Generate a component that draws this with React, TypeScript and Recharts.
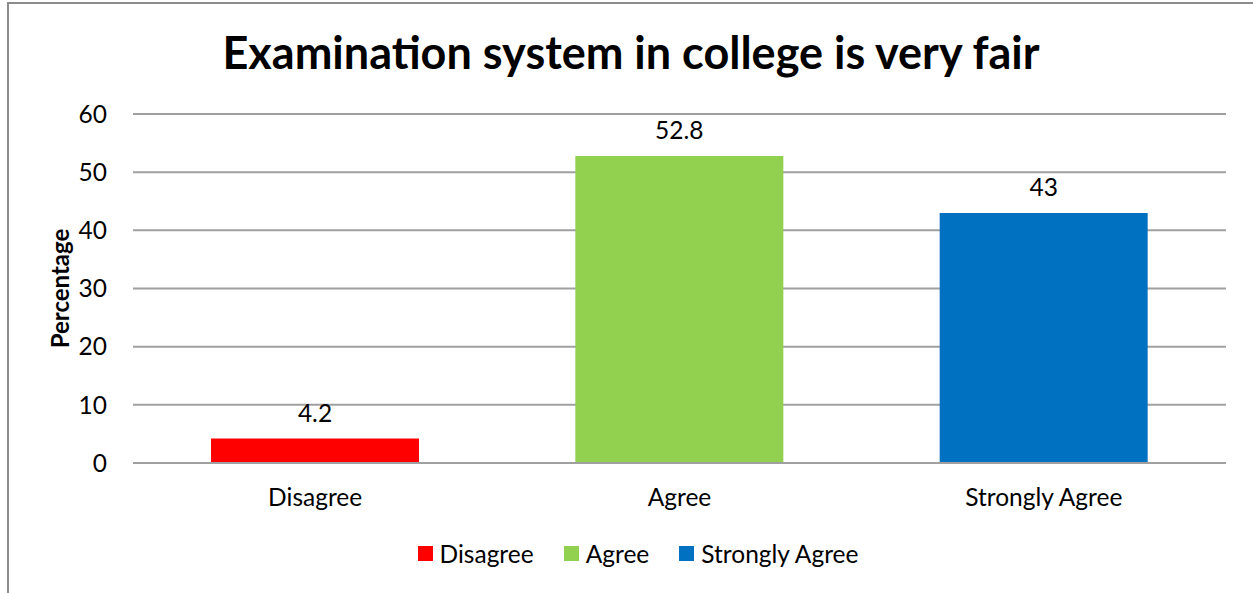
import React from 'react';
import { BarChart, Bar, XAxis, YAxis, CartesianGrid, Legend, LabelList, Label } from 'recharts';

const categories = ['Disagree', 'Agree', 'Strongly Agree'];
const values = [4.2, 52.8, 43];
const colors = ['#FF0000', '#92D050', '#0070C0'];
const yTicks = [0, 10, 20, 30, 40, 50, 60];
const title = 'Examination system in college is very fair';
const yLabel = 'Percentage';

const data = categories.map((c, i) => {
  const row: Record<string, string | number | null> = { name: c };
  categories.forEach((k, j) => {
    row[k] = i === j ? values[i] : null;
  });
  return row;
});

const FONT = 'Lato, "Open Sans", sans-serif';
const FS = 24.5;

const renderLegend = () => (
  <div style={{ display: 'flex', justifyContent: 'center', alignItems: 'center', height: 40, fontFamily: FONT, fontSize: FS, color: '#000', paddingLeft: 10 }}>
    {categories.map((c, i) => (
      <div key={c} style={{ display: 'flex', alignItems: 'center', marginRight: i < categories.length - 1 ? 30 : 0 }}>
        <span style={{ display: 'inline-block', width: 15, height: 15, background: colors[i], marginRight: 7 }} />
        <span>{c}</span>
      </div>
    ))}
  </div>
);

export default function App() {
  return (
    <div style={{ position: 'fixed', left: 0, top: 0, width: 1253, height: 593, overflow: 'hidden', background: '#fff', fontFamily: FONT }}>
      <div style={{ position: 'absolute', left: 7, top: 2, width: 1300, height: 700, border: '2px solid #8c8c8c', boxSizing: 'border-box' }} />
      <div style={{ position: 'absolute', left: 0, top: 22, width: 1262, textAlign: 'center', fontSize: 45, fontWeight: 700, color: '#000', lineHeight: '60px' }}>{title}</div>
      <div style={{ position: 'absolute', left: 0, top: 0 }}>
        <BarChart width={1253} height={593} data={data} margin={{ top: 114, right: 27, left: 40, bottom: 20 }} barSize={208}>
          <CartesianGrid vertical={false} stroke="#a0a0a0" strokeWidth={2} />
          <XAxis dataKey="name" axisLine={{ stroke: '#a0a0a0', strokeWidth: 2 }} tickLine={false} tickSize={0} tickMargin={26} height={70} tick={{ fill: '#000', fontSize: FS, fontFamily: FONT }} />
          <YAxis domain={[0, 60]} ticks={yTicks} axisLine={false} tickLine={false} tickSize={0} tickMargin={26} width={93} tick={{ fill: '#000', fontSize: FS, fontFamily: FONT }}>
            <Label value={yLabel} angle={-90} position="insideLeft" offset={20} style={{ fill: '#000', fontSize: 24, fontWeight: 700, fontFamily: FONT, textAnchor: 'middle' }} />
          </YAxis>
          <Legend verticalAlign="bottom" height={40} content={renderLegend} />
          {categories.map((c, i) => (
            <Bar key={c} dataKey={c} stackId="a" fill={colors[i]} isAnimationActive={false}>
              <LabelList dataKey={c} position="top" offset={17} style={{ fill: '#000', fontSize: FS, fontFamily: FONT }} />
            </Bar>
          ))}
        </BarChart>
      </div>
    </div>
  );
}
